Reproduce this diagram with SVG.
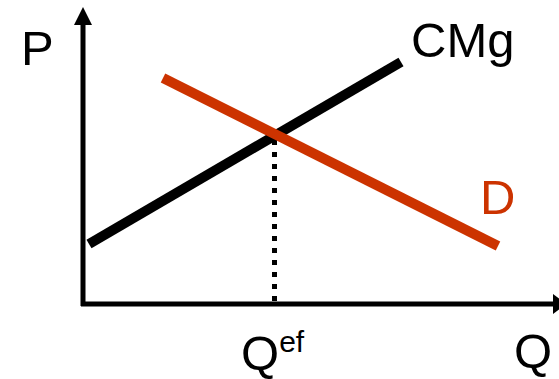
<svg xmlns="http://www.w3.org/2000/svg" width="559" height="379" viewBox="0 0 559 379">
<style>
.t{font-family:"Liberation Sans",Arial,sans-serif;font-size:49px;fill:#000}
.ax{stroke:#000;stroke-width:5;fill:none}
</style>
<rect width="559" height="379" fill="#fff"/>
<g id="connectors">
<line class="ax" x1="83" y1="22" x2="83" y2="306"/>
<polygon points="83,7 74,25 92,25" fill="#000"/>
<line class="ax" x1="81" y1="304" x2="556" y2="304"/>
<polygon points="566,304 553,294 553,314" fill="#000"/>
<line x1="274.5" y1="140" x2="274.5" y2="302" stroke="#000" stroke-width="5" stroke-dasharray="5 7"/>
</g>
<g id="cmg">
<line x1="89" y1="244" x2="401" y2="62" stroke="#000" stroke-width="10"/>
<text class="t" x="411" y="57">CMg</text>
</g>
<g id="d">
<line x1="163" y1="78" x2="498" y2="246" stroke="#CC3300" stroke-width="10"/>
<text class="t" x="480" y="214" style="fill:#CC3300">D</text>
</g>
<g id="labels">
<text class="t" x="21" y="65">P</text>
<text class="t" x="241" y="370">Q<tspan font-size="30" dy="-18">ef</tspan></text>
<text class="t" x="514" y="368">Q</text>
</g>
</svg>
